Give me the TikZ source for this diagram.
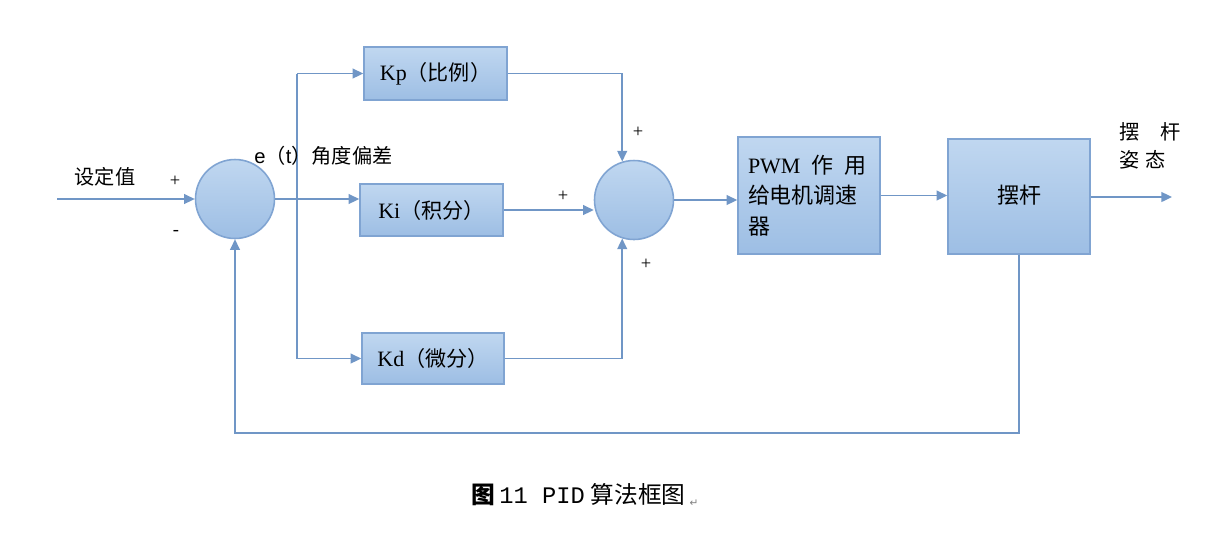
\documentclass[tikz,border=0pt]{standalone}
\usepackage{fontspec}
\setmainfont{Liberation Serif}
\setmonofont{Liberation Mono}
\newfontfamily\cjk{Noto Sans CJK SC}
\newfontfamily\symfont{DejaVu Sans}
\usetikzlibrary{arrows.meta,positioning}
\definecolor{linkblue}{RGB}{112,150,198}
\definecolor{boxtop}{RGB}{192,215,240}
\definecolor{boxbot}{RGB}{157,190,228}
\definecolor{boxedge}{RGB}{128,164,210}

\begin{document}
\begin{tikzpicture}[x=0.02cm, y=-0.02cm,
    block/.style={draw=boxedge, line width=0.9pt, top color=boxtop, bottom color=boxbot,
      inner sep=0pt, font=\fontsize{12.5}{14}\selectfont},
    sumnode/.style={circle, draw=boxedge, line width=0.9pt, top color=boxtop, bottom color=boxbot,
      minimum size=1.58cm, inner sep=0pt},
    link/.style={draw=linkblue, line width=1.1pt, -{Triangle[length=6pt,width=5.5pt]}},
    bare/.style={draw=linkblue, line width=1.1pt},
    lbl/.style={font=\fontsize{11.5}{14}\selectfont\cjk, inner sep=1pt},
    sign/.style={font=\fontsize{10.5}{11}\selectfont, inner sep=0pt}]
  \useasboundingbox (0,0) rectangle (1217,559);

  % summing points and blocks
  \node[sumnode] (sumA) at (235,199) {};
  \node[sumnode] (sumB) at (634,200) {};
  \node[block, minimum width=2.86cm, minimum height=1.06cm] (kp) at (435.5,73.5) {Kp{\cjk\fontsize{12}{14}\selectfont（比例）}};
  \node[block, minimum width=2.86cm, minimum height=1.04cm] (ki) at (431.5,210) {Ki{\cjk\fontsize{12}{14}\selectfont（积分）}};
  \node[block, minimum width=2.84cm, minimum height=1.02cm] (kd) at (433,358.5) {Kd{\cjk\fontsize{12}{14}\selectfont（微分）}};
  \node[block, minimum height=2.34cm, inner xsep=0.2cm, text width=2.44cm, align=left,
    font=\fontsize{12.5}{17.5}\selectfont] (pwm) at (809,195.5)
    {PWM\enspace{\cjk 作\enspace 用}\\{\cjk 给电机调速}\\{\cjk 器}};
  \node[block, minimum width=2.84cm, minimum height=2.3cm, font=\fontsize{12.5}{15}\selectfont\cjk] (rod) at (1019,196.5) {\raisebox{0.08cm}{摆杆}};

  \coordinate (in) at (57,199);
  \coordinate (split) at (297,200);
  \coordinate (out) at (1172,197);
  \coordinate (fb) at (1019,433);

  % connectors
  \draw[link] (in) -- (sumA.west);
  \draw[link] (sumA.east) -- (sumA.east -| ki.west);
  \draw[bare] (kp.west -| split) -- (kd.west -| split);
  \draw[link] (kp.west -| split) -- (kp.west);
  \draw[link] (kd.west -| split) -- (kd.west);
  \draw[link] (kp.east) -| (sumB.107);
  \draw[link] (ki.east) -- (ki.east -| sumB.west);
  \draw[link] (kd.east) -| (sumB.253);
  \draw[link] (sumB.east) -- (sumB.east -| pwm.west);
  \draw[link] (pwm.east) -- (pwm.east -| rod.west);
  \draw[link] (rod.east |- out) -- (out);
  \draw[link] (rod.south) -- (fb) -| (sumA.south);

  % labels
  \node[lbl] (setlbl) at (105,177) {设定值};
  \node[sign] (plusA) at (175,181) {+};
  \node[sign] (minusA) at (176,233) {-};
  \node[lbl, anchor=west, inner sep=0pt] (errlbl) at (254,156) {{\fontspec{Liberation Sans}e}（{\fontspec{Liberation Sans}t}）角度偏差};
  \node[sign] (plusB) at (638,132) {+};
  \node[sign] (plusC) at (563,196) {+};
  \node[sign] (plusD) at (646,264) {+};
  \node[lbl, anchor=north west, align=left, inner sep=0pt] (outlbl) at (1119,122)
    {摆\hspace{0.42cm}杆\\[2pt]姿\hspace{0.12cm}态};

  % caption
  \node[font=\fontsize{13.5}{16}\selectfont, inner sep=0pt] (cap) at (585,495)
    {{\cjk\bfseries 图}\,{\ttfamily 11 PID}\ {\cjk 算法框图}\,\raisebox{-2pt}{\symfont\color{gray}\fontsize{6}{6}\selectfont ↵}};
\end{tikzpicture}
\end{document}
